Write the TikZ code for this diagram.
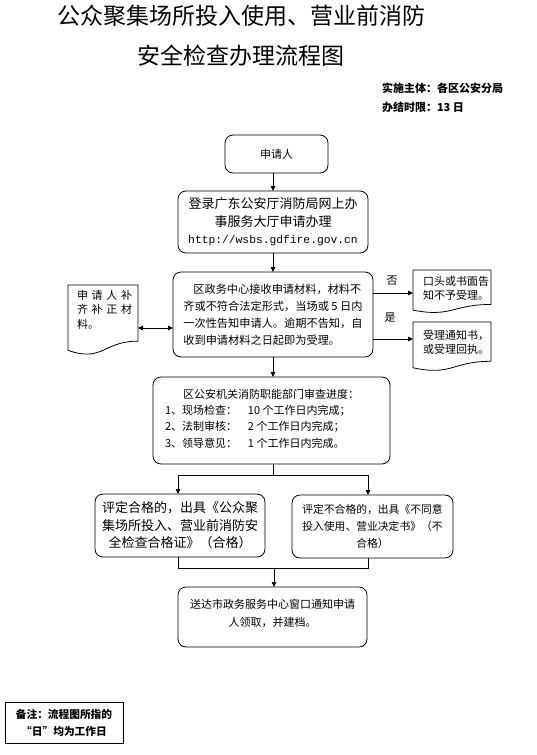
\documentclass[tikz,border=0pt]{standalone}
\usepackage{fontspec}
\setmainfont{Noto Sans CJK SC}
\newfontfamily\urlfont{Liberation Mono}
\usetikzlibrary{arrows.meta,calc}
\newcommand{\fs}[2]{\fontsize{#1}{#2}\selectfont}
\newcommand{\docpath}[1]{%
  \draw[line width=0.8pt] (#1.north west) -- (#1.north east)
    -- ($(#1.north east)!0.802!(#1.south east)$)
    .. controls ($(#1.north)!0.802!(#1.south)$) and ($(#1.north)!1.107!(#1.south)$)
    .. ($(#1.north west)!0.934!(#1.south west)$) -- cycle;}
\begin{document}
\begin{tikzpicture}[x=1pt,y=-1pt,
  every node/.style={inner sep=0pt, outer sep=0pt},
  rbox/.style={draw, line width=0.8pt, rounded corners=8pt},
  docbox/.style={draw=none},
  conn/.style={line width=0.8pt},
  arr/.style={conn, -{Triangle[length=5pt,width=4.5pt]}},
  darr/.style={conn, {Triangle[length=5pt,width=4.5pt]}-{Triangle[length=5pt,width=4.5pt]}},
  lbl/.style={font=\fs{11}{14}}
  ]
\useasboundingbox (0,0) rectangle (537,755);

% title
\node[font=\fs{23}{27}] (title1) at (241,16) {公众聚集场所投入使用、营业前消防};
\node[font=\fs{23}{27}] (title2) at (241,56) {安全检查办理流程图};
\node[anchor=west, font=\bfseries\fs{11}{14}] (impl) at (382,88) {实施主体：各区公安分局};
\node[anchor=west, font=\bfseries\fs{11}{14}] (dur) at (382,107) {办结时限：13 日};

% boxes
\node[rbox, minimum width=103pt, minimum height=38pt, font=\fs{11}{14}] (b1) at (276.5,154) {申请人};
\node[rbox, minimum width=190pt, minimum height=62pt, align=center, font=\fs{13}{17.5}] (b2) at (273,222)
  {登录广东公安厅消防局网上办\\事服务大厅申请办理\\{\urlfont\fs{11.3}{17.5}http://wsbs.gdfire.gov.cn}};
\node[rbox, minimum width=200pt, minimum height=85pt, align=left, font=\fs{11.2}{17}] (b3) at (273,314.5)
  {\hspace{10pt}区政务中心接收申请材料，材料不\\齐或不符合法定形式，当场或 5 日内\\一次性告知申请人。逾期不告知，自\\收到申请材料之日起即为受理。};
\node[rbox, minimum width=237pt, minimum height=87pt] (b4) at (271.5,420.5) {};
\node[align=left, font=\fs{11}{16.3}] (t4) at (262,418.5)
  {\hspace{18pt}区公安机关消防职能部门审查进度：\\
   \makebox[83pt][l]{1、现场检查：}10 个工作日内完成；\\
   \makebox[83pt][l]{2、法制审核：}2 个工作日内完成；\\
   \makebox[83pt][l]{3、领导意见：}1 个工作日内完成。};
\node[rbox, minimum width=170pt, minimum height=63pt, align=center, font=\fs{13}{17.5}] (b5) at (180,525.5)
  {评定合格的，出具《公众聚\\集场所投入、营业前消防安\\全检查合格证》（合格）};
\node[rbox, minimum width=161pt, minimum height=63pt, align=center, font=\fs{10.8}{17}] (b6) at (372.5,526.5)
  {评定不合格的，出具《不同意\\投入使用、营业决定书》（不\\合格）};
\node[rbox, minimum width=189pt, minimum height=60pt] (b7) at (272.5,617) {};
\node[align=center, font=\fs{11}{18}] (t7) at (272.5,613) {送达市政务服务中心窗口通知申请\\人领取，并建档。};

% documents
\node[docbox, minimum width=70pt, minimum height=70pt] (dL) at (103,320) {};
\docpath{dL}
\node[anchor=west, align=left, font=\fs{11}{14.5}] (tL) at (77,309.5)
  {\makebox[55pt][s]{申\hfill 请\hfill 人\hfill 补}\\\makebox[55pt][s]{齐\hfill 补\hfill 正\hfill 材}\\料。};
\node[docbox, minimum width=78pt, minimum height=43pt] (dR1) at (452,291.5) {};
\docpath{dR1}
\node[anchor=west, align=left, font=\fs{11}{14}] (tR1) at (423,288.5) {口头或书面告\\知不予受理。};
\node[docbox, minimum width=78pt, minimum height=49pt] (dR2) at (452,346.5) {};
\docpath{dR2}
\node[anchor=west, align=left, font=\fs{11}{14}] (tR2) at (423,342) {受理通知书，\\或受理回执。};

% note
\node[draw, line width=0.8pt, minimum width=118pt, minimum height=41pt, align=center,
  font=\bfseries\fs{10.7}{17}] (note) at (64,722.5) {备注：流程图所指的\\“日”均为工作日};

% labels
\node[lbl] (no) at (392,281) {否};
\node[lbl] (yes) at (390,318) {是};

% connectors
\draw[arr] (b2.north |- b1.south) -- (b2.north);
\draw[arr] (b2.south) -- (b3.north);
\draw[arr] (b3.south) -- (b3.south |- b4.north);

\coordinate (aL) at ($(dL.east)+(0,8)$);
\draw[darr] (aL) -- (aL -| b3.west);
\coordinate (y1) at (0,293);
\coordinate (y2) at (0,339);
\draw[arr] (b3.east |- y1) -- (dR1.west |- y1);
\draw[arr] (b3.east |- y2) -- (dR2.west |- y2);

\coordinate (s1) at (273,475);
\coordinate (cL) at (178,475);
\coordinate (cR) at (368,475);
\draw[conn] (s1 |- b4.south) -- (s1);
\draw[arr] (s1) -- (cL) -- (cL |- b5.north);
\draw[arr] (s1) -- (cR) -- (cR |- b6.north);

\coordinate (mL) at (178,568);
\coordinate (mR) at (368,568);
\coordinate (m) at (274,568);
\draw[conn] (mL |- b5.south) -- (mL) -- (mR) -- (mR |- b6.south);
\draw[arr] (m) -- (m |- b7.north);
\end{tikzpicture}
\end{document}
